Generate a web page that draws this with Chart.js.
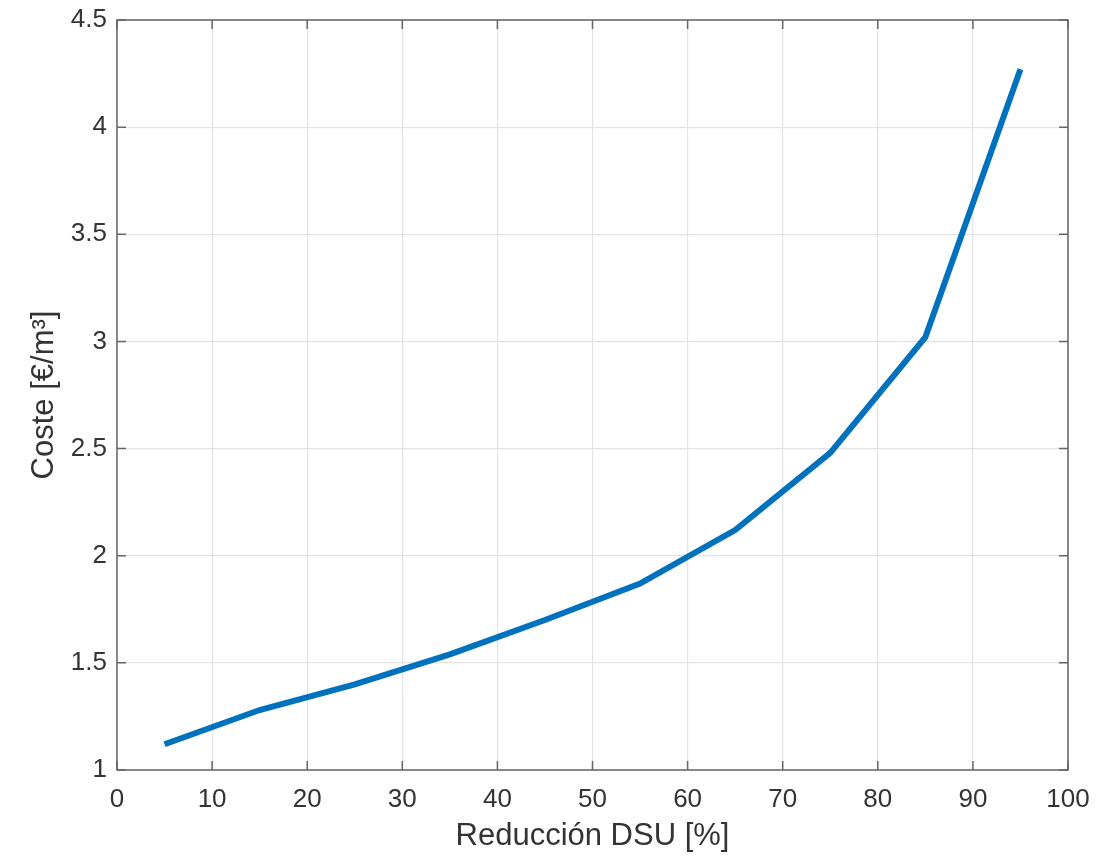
<!DOCTYPE html>
<html>
<head>
<meta charset="utf-8">
<script src="https://cdn.jsdelivr.net/npm/chart.js@4"></script>
<style>
html,body{margin:0;padding:0;background:#fff;}
#wrap{width:1097px;height:858px;}
</style>
</head>
<body>
<div id="wrap"><canvas id="c" width="1097" height="858"></canvas></div>
<script>
const reduccion = [5, 15, 25, 35, 45, 55, 65, 75, 85, 95];
const coste = [1.12, 1.28, 1.40, 1.54, 1.70, 1.87, 2.12, 2.48, 3.02, 4.27];
const xTicks = [0, 10, 20, 30, 40, 50, 60, 70, 80, 90, 100];
const yTicks = [1, 1.5, 2, 2.5, 3, 3.5, 4, 4.5];
const yTickLabels = ['1', '1.5', '2', '2.5', '3', '3.5', '4', '4.5'];
const xTitle = 'Reducción DSU [%]';
const yTitle = 'Coste [€/m³]';

const FONT = '"Liberation Sans", Arial, Helvetica, sans-serif';
const AXIS_COLOR = '#666666';
const TEXT_COLOR = '#333333';

const boxPlugin = {
  id: 'matlabBox',
  beforeDatasetsDraw(chart) {
    const {ctx, chartArea: a, scales: {x, y}} = chart;
    ctx.save();
    ctx.strokeStyle = AXIS_COLOR;
    ctx.lineWidth = 1.5;
    ctx.strokeRect(a.left, a.top, a.right - a.left, a.bottom - a.top);
    const L = 9;
    ctx.beginPath();
    xTicks.forEach(v => {
      const px = x.getPixelForValue(v);
      ctx.moveTo(px, a.bottom); ctx.lineTo(px, a.bottom - L);
      ctx.moveTo(px, a.top); ctx.lineTo(px, a.top + L);
    });
    yTicks.forEach(v => {
      const py = y.getPixelForValue(v);
      ctx.moveTo(a.left, py); ctx.lineTo(a.left + L, py);
      ctx.moveTo(a.right, py); ctx.lineTo(a.right - L, py);
    });
    ctx.stroke();
    ctx.restore();
  }
};

new Chart(document.getElementById('c'), {
  type: 'line',
  data: {
    datasets: [{
      data: reduccion.map((v, i) => ({x: v, y: coste[i]})),
      borderColor: '#0072BD',
      borderWidth: 6,
      pointRadius: 0,
      tension: 0,
      fill: false
    }]
  },
  options: {
    responsive: false,
    animation: false,
    layout: {padding: {left: 0, right: 29, top: 20, bottom: 0}},
    plugins: {legend: {display: false}, tooltip: {enabled: false}},
    scales: {
      x: {
        type: 'linear', min: 0, max: 100,
        afterBuildTicks(s) { s.ticks = xTicks.map(v => ({value: v})); },
        afterFit(s) { s.height = 88; s.paddingLeft = 0; s.paddingRight = 0; },
        grid: {color: '#e3e3e3', lineWidth: 1.2, drawTicks: false},
        border: {display: false},
        ticks: {padding: 14, color: TEXT_COLOR, font: {family: FONT, size: 26}, maxRotation: 0,
          callback: (v) => String(v)},
        title: {display: true, text: xTitle, color: TEXT_COLOR, font: {family: FONT, size: 31}, padding: {top: 0, bottom: 3}}
      },
      y: {
        type: 'linear', min: 1, max: 4.5,
        afterBuildTicks(s) { s.ticks = yTicks.map(v => ({value: v})); },
        afterFit(s) { s.width = 117; s.paddingTop = 0; s.paddingBottom = 0; },
        grid: {color: '#e3e3e3', lineWidth: 1.2, drawTicks: false},
        border: {display: false},
        ticks: {padding: 10, color: TEXT_COLOR, font: {family: FONT, size: 26},
          callback: (v) => { const i = yTicks.indexOf(v); return i >= 0 ? yTickLabels[i] : ''; }},
        title: {display: true, text: yTitle, color: TEXT_COLOR, font: {family: FONT, size: 31}, padding: {top: 26, bottom: 0}}
      }
    }
  },
  plugins: [boxPlugin]
});
</script>
</body>
</html>
